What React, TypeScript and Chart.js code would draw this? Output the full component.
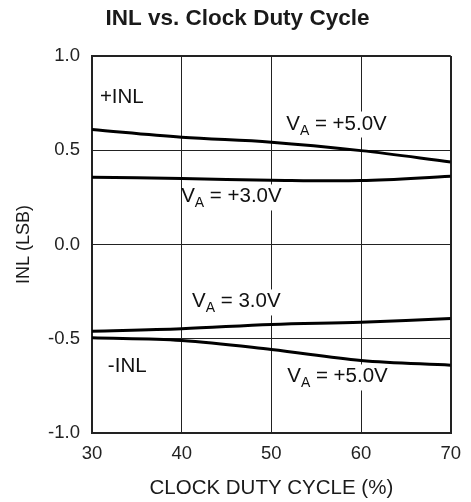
import React, { useEffect, useRef } from "react";
import { Chart, registerables } from "chart.js";

Chart.register(...registerables);

const dutyCycle = [30, 40, 50, 60, 70];
const plusInl5V = [0.61, 0.569, 0.543, 0.498, 0.438];
const plusInl3V = [0.357, 0.35, 0.341, 0.339, 0.362];
const minusInl3V = [-0.46, -0.447, -0.424, -0.412, -0.392];
const minusInl5V = [-0.495, -0.509, -0.557, -0.615, -0.64];

const yTicks = [-1.0, -0.5, 0.0, 0.5, 1.0];
const xTicks = [30, 40, 50, 60, 70];

// annotation labels: main text, subscript, rest, anchor x, anchor y (data units)
const labelMain = ["+INL", "V", "V", "V", "-INL", "V"];
const labelSub = ["", "A", "A", "A", "", "A"];
const labelRest = ["", " = +5.0V", " = +3.0V", " = 3.0V", "", " = +5.0V"];
const labelX = [30.88, 51.66, 39.94, 41.16, 31.77, 51.77];
const labelY = [0.753, 0.61, 0.223, -0.334, -0.674, -0.732];

const FONT = "Arial, 'Liberation Sans', Helvetica, sans-serif";

const annotationPlugin = {
  id: "annotations",
  afterDatasetsDraw(chart: any) {
    const { ctx, scales } = chart;
    const xs = scales.x;
    const ys = scales.y;
    ctx.save();
    ctx.textBaseline = "alphabetic";
    ctx.textAlign = "left";
    for (let i = 0; i < labelMain.length; i++) {
      const px = xs.getPixelForValue(labelX[i]);
      const py = ys.getPixelForValue(labelY[i]);
      ctx.font = `20.5px ${FONT}`;
      const w1 = ctx.measureText(labelMain[i]).width;
      ctx.font = `14px ${FONT}`;
      const w2 = ctx.measureText(labelSub[i]).width;
      ctx.font = `20.5px ${FONT}`;
      const w3 = ctx.measureText(labelRest[i]).width;
      const total = w1 + w2 + w3;
      if (labelSub[i]) {
        ctx.fillStyle = "#ffffff";
        ctx.fillRect(px + 2, py - 18, total, 26);
      }
      ctx.fillStyle = "#111";
      ctx.font = `20.5px ${FONT}`;
      ctx.fillText(labelMain[i], px, py);
      ctx.font = `14px ${FONT}`;
      ctx.fillText(labelSub[i], px + w1, py + 5);
      ctx.font = `20.5px ${FONT}`;
      ctx.fillText(labelRest[i], px + w1 + w2, py);
    }
    ctx.restore();
  },
};

const PAD_LEFT = 21;

export default function App() {
  const canvasRef = useRef<HTMLCanvasElement | null>(null);

  useEffect(() => {
    if (!canvasRef.current) return;
    const lineDs = (data: number[]) => ({
      data: dutyCycle.map((x, i) => ({ x, y: data[i] })),
      borderColor: "#000",
      borderWidth: 3,
      pointRadius: 0,
      tension: 0.35,
      fill: false,
    });
    const chart = new Chart(canvasRef.current, {
      type: "line",
      data: {
        datasets: [
          lineDs(plusInl5V),
          lineDs(plusInl3V),
          lineDs(minusInl3V),
          lineDs(minusInl5V),
        ],
      },
      options: {
        animation: false,
        responsive: false,
        maintainAspectRatio: false,
        layout: { padding: { left: PAD_LEFT, right: 17, top: 0, bottom: 0 } },
        plugins: {
          legend: { display: false },
          tooltip: { enabled: false },
          title: {
            display: true,
            text: "INL vs. Clock Duty Cycle",
            color: "#1a1a1a",
            font: { family: FONT, size: 22.5, weight: "bold" },
            padding: { top: 5, bottom: 24 },
          },
        },
        scales: {
          x: {
            type: "linear",
            min: 30,
            max: 70,
            afterFit(scale: any) {
              scale.height = 69;
            },
            afterBuildTicks(scale: any) {
              scale.ticks = xTicks.map((v) => ({ value: v }));
            },
            ticks: {
              color: "#222",
              font: { family: FONT, size: 18.5 },
              padding: 10,
              maxRotation: 0,
              callback: (v: any) => String(v),
            },
            grid: {
              color: "#222",
              lineWidth: (c: any) => (c.tick && (c.tick.value === 30 || c.tick.value === 70) ? 2 : 1),
              drawTicks: false,
            },
            border: { display: true, color: "#222", width: 2 },
            title: {
              display: true,
              text: "CLOCK DUTY CYCLE (%)",
              color: "#1a1a1a",
              font: { family: FONT, size: 20.5 },
              padding: { top: 0, bottom: 1 },
            },
          },
          y: {
            type: "linear",
            min: -1,
            max: 1,
            afterFit(scale: any) {
              scale.width = 92 - PAD_LEFT;
            },
            afterBuildTicks(scale: any) {
              scale.ticks = yTicks.map((v) => ({ value: v }));
            },
            ticks: {
              color: "#222",
              font: { family: FONT, size: 18.5 },
              padding: 12,
              callback: (v: any) => Number(v).toFixed(1),
            },
            grid: {
              color: "#222",
              lineWidth: (c: any) => (c.tick && (c.tick.value === 1 || c.tick.value === -1) ? 2 : 1),
              drawTicks: false,
            },
            border: { display: true, color: "#222", width: 2 },
            title: {
              display: true,
              text: "INL (LSB)",
              color: "#1a1a1a",
              font: { family: FONT, size: 18 },
              padding: { top: 13 - PAD_LEFT, bottom: 0 },
            },
          },
        },
      },
      plugins: [annotationPlugin],
    });
    return () => chart.destroy();
  }, []);

  return (
    <div style={{ position: "absolute", left: 0, top: 0, width: 471, height: 502, background: "#fff" }}>
      <canvas ref={canvasRef} width={471} height={502} style={{ width: 471, height: 502, display: "block" }} />
    </div>
  );
}
